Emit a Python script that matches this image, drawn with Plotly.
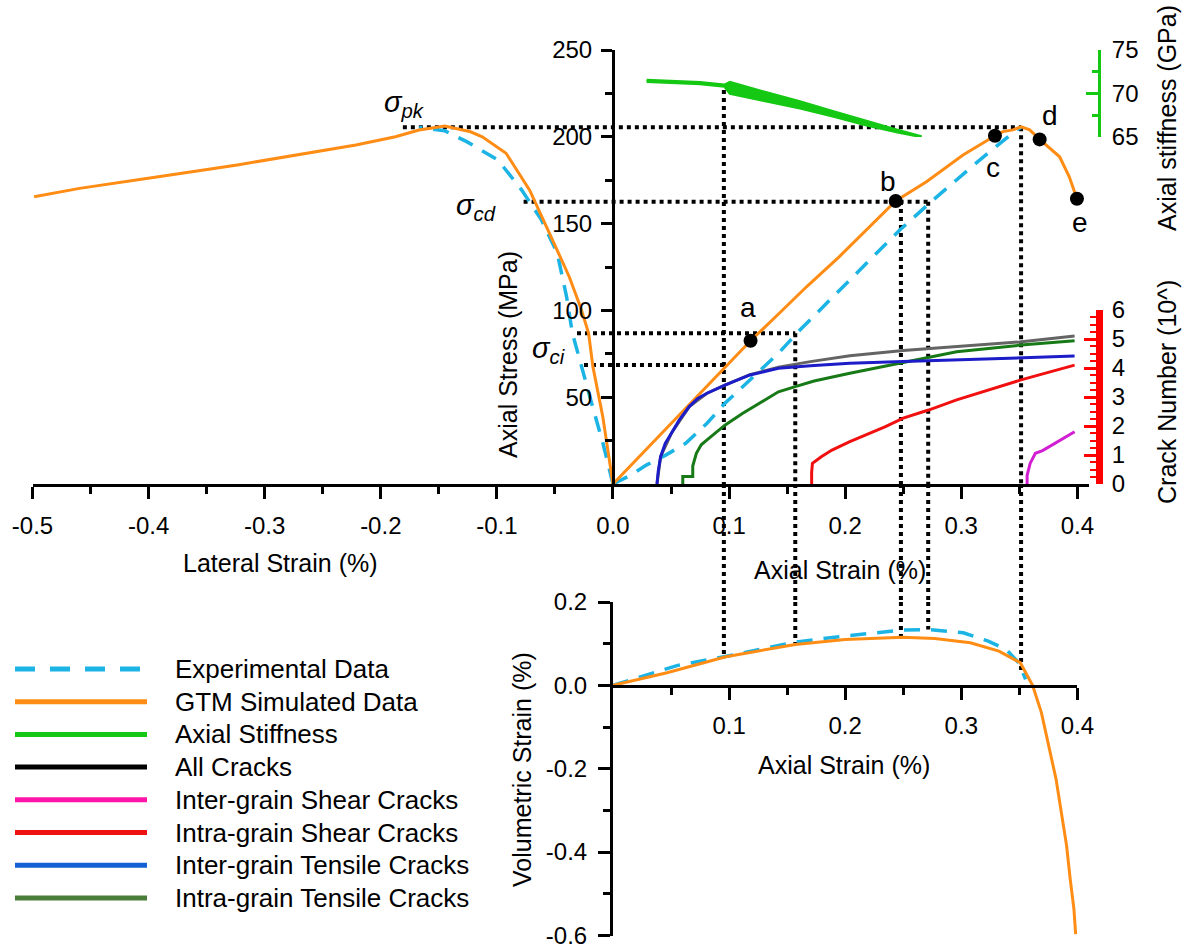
import plotly.graph_objects as go

W, H = 1184, 948
FONT = "Liberation Sans, Arial, sans-serif"

# ---------------- data ----------------
# GTM simulated: axial stress vs axial strain (%)
gtm_axial_strain = [0, 0.03, 0.06, 0.09, 0.1185, 0.145, 0.1667, 0.195, 0.22, 0.2435, 0.27, 0.3015,
                    0.329, 0.3359, 0.3445, 0.3517, 0.3589, 0.3675, 0.3847, 0.393, 0.3996]
gtm_axial_stress = [0, 21, 42, 63, 82.5, 99.5, 113.6, 131, 147.5, 163, 174.1, 189.5,
                    200.6, 203, 204, 205.8, 204, 198.5, 188.5, 177, 164.3]
# GTM simulated: axial stress vs lateral strain (%)
gtm_lateral_strain = [0, -0.0088, -0.0173, -0.021, -0.0275, -0.0377, -0.0547, -0.0672, -0.0718, -0.0921,
                      -0.1126, -0.1227, -0.1449, -0.167, -0.1874, -0.2214, -0.2826, -0.3236, -0.3916,
                      -0.4595, -0.4986]
gtm_lateral_stress = [0, 38.8, 67.6, 86.8, 101, 119.4, 144.4, 162.6, 169.3, 190.5,
                      200, 202.9, 206.2, 203.9, 200, 195.3, 188.5, 183.8, 177,
                      170.3, 165.5]
# Experimental data
exp_axial_strain = [0, 0.015, 0.0287, 0.045, 0.0626, 0.081, 0.0964, 0.121, 0.1425, 0.161, 0.1917,
                    0.2068, 0.247, 0.2757, 0.3158, 0.3474, 0.3517]
exp_axial_stress = [0, 5, 10.9, 16.5, 23.4, 35, 46.5, 61.8, 75.3, 88.7, 108.9,
                    119.4, 146.3, 163.6, 186.6, 203.9, 205.5]
exp_lateral_strain = [0, -0.0085, -0.019, -0.027, -0.035, -0.040, -0.048, -0.0615, -0.0786, -0.099,
                      -0.126, -0.145, -0.167]
exp_lateral_stress = [0, 23, 48, 67.6, 87, 108, 132.9, 152, 169.3, 186.6,
                      197.2, 203.5, 205.4]

# Axial stiffness (GPa) band
stiff_strain = [0.029, 0.05, 0.075, 0.096, 0.1007, 0.13, 0.161, 0.19, 0.2183, 0.245, 0.2657]
stiff_upper = [71.55, 71.45, 71.3, 71.0, 71.3, 70.2, 69.1, 67.95, 66.8, 65.8, 65.05]
stiff_lower = [71.35, 71.25, 71.1, 70.8, 70.0, 69.15, 68.3, 67.35, 66.35, 65.55, 65.0]

# Crack numbers
all_strain = [0.0379, 0.041, 0.0503, 0.0657, 0.081, 0.0964, 0.118, 0.1425, 0.17, 0.204, 0.25, 0.296, 0.35, 0.3976]
all_count = [0, 0.94, 1.75, 2.67, 3.13, 3.41, 3.77, 4.03, 4.22, 4.42, 4.6, 4.74, 4.9, 5.1]
inter_shear_strain = [0.3567, 0.3567, 0.3593, 0.3638, 0.37, 0.376, 0.3976]
inter_shear_count = [0, 0.3, 0.71, 1.06, 1.15, 1.29, 1.8]
intra_shear_strain = [0.1711, 0.1711, 0.1718, 0.1794, 0.1886, 0.204, 0.2347, 0.25, 0.2718, 0.296, 0.3515, 0.3976]
intra_shear_count = [0, 0.4, 0.71, 0.94, 1.17, 1.46, 1.98, 2.27, 2.55, 2.9, 3.59, 4.1]
inter_tens_strain = [0.0379, 0.039, 0.041, 0.045, 0.0503, 0.057, 0.0657, 0.073, 0.081, 0.0964, 0.118, 0.1425,
                     0.17, 0.204, 0.25, 0.296, 0.35, 0.3976]
inter_tens_count = [0, 0.45, 0.94, 1.4, 1.75, 2.2, 2.67, 2.95, 3.13, 3.41, 3.76, 3.99,
                    4.08, 4.16, 4.22, 4.28, 4.34, 4.41]
intra_tens_strain = [0.0601, 0.0601, 0.0687, 0.0687, 0.0718, 0.076, 0.081, 0.0964, 0.1118, 0.1425, 0.157,
                     0.1732, 0.204, 0.2347, 0.2485, 0.296, 0.3515, 0.3976]
intra_tens_count = [0, 0.26, 0.26, 0.62, 1.06, 1.35, 1.52, 2.03, 2.44, 3.18, 3.36,
                    3.55, 3.82, 4.07, 4.18, 4.56, 4.79, 4.94]

# Volumetric strain
vol_gtm_strain = [0, 0.0465, 0.0972, 0.157, 0.2, 0.2494, 0.2771, 0.3078, 0.3324, 0.3508, 0.3614,
                  0.369, 0.3816, 0.3907, 0.3938, 0.397, 0.3985]
vol_gtm_value = [0, 0.0304, 0.0687, 0.0982, 0.11, 0.1157, 0.1126, 0.1022, 0.0822, 0.0543, 0,
                 -0.0655, -0.225, -0.385, -0.465, -0.537, -0.597]
vol_exp_strain = [0, 0.0558, 0.0989, 0.157, 0.2, 0.2494, 0.271, 0.3017, 0.3232, 0.3386, 0.3494, 0.3554]
vol_exp_value = [0, 0.0479, 0.0703, 0.1038, 0.1186, 0.1326, 0.134, 0.1262, 0.106, 0.0862, 0.0543, 0.0144]

# Labelled points on GTM curve
point_labels = ["a", "b", "c", "d", "e"]
point_strain = [0.1185, 0.2435, 0.329, 0.3675, 0.3996]
point_stress = [82.5, 163, 200.6, 198.5, 164.3]

# Threshold guide lines
h_guide_start = [-0.181, -0.077, -0.031, -0.025]
h_guide_end = [0.3515, 0.2715, 0.157, 0.0955]
h_guide_stress = [205.5, 162.6, 86.8, 68.5]
v_guide_strain = [0.0955, 0.157, 0.248, 0.2715, 0.3515]
v_guide_top_stress = [227, 86.8, 163, 162.6, 205.5]
v_guide_vol = [0.066, 0.101, 0.113, 0.134, 0.031]

# Tick labels
main_x_ticks = [-0.5, -0.4, -0.3, -0.2, -0.1, 0.0, 0.1, 0.2, 0.3, 0.4]
main_x_text = ["-0.5", "-0.4", "-0.3", "-0.2", "-0.1", "0.0", "0.1", "0.2", "0.3", "0.4"]
stress_ticks = [50, 100, 150, 200, 250]
stiff_ticks = [65, 70, 75]
crack_ticks = [0, 1, 2, 3, 4, 5, 6]
vol_x_ticks = [0.1, 0.2, 0.3, 0.4]
vol_x_text = ["0.1", "0.2", "0.3", "0.4"]
vol_y_ticks = [-0.6, -0.4, -0.2, 0.0, 0.2]
vol_y_text = ["-0.6", "-0.4", "-0.2", "0.0", "0.2"]

legend_names = ["Experimental Data", "GTM Simulated Data", "Axial Stiffness", "All Cracks",
                "Inter-grain Shear Cracks", "Intra-grain Shear Cracks",
                "Inter-grain Tensile Cracks", "Intra-grain Tensile Cracks"]

# ---------------- styles ----------------
C_EXP = "#1cb4e4"
C_GTM = "#ff8c14"
C_STIFF = "#14c814"
C_ALL = "#646464"
C_INTER_SH = "#d21ed2"
C_INTRA_SH = "#f01010"
C_INTER_TE = "#1c1cc8"
C_INTRA_TE = "#177a17"
legend_colors = [C_EXP, C_GTM, C_STIFF, "#000000", "#ff14aa", "#ee1212", "#1560d4", "#4a7c3a"]
legend_dash = ["20px,15px", "solid", "solid", "solid", "solid", "solid", "solid", "solid"]
EXP_DASH = "16px,11px"


def pxx(x):
    return x / W


def pxy(y):
    return 1 - y / H


fig = go.Figure()

# horizontal guides (main axes)
for xs, xe, s in zip(h_guide_start, h_guide_end, h_guide_stress):
    fig.add_trace(go.Scatter(x=[xs, xe], y=[s, s], mode="lines", xaxis="x", yaxis="y",
                             line=dict(color="black", width=4, dash="dot"), showlegend=False, hoverinfo="skip"))
# vertical guides: main part
for v, top in zip(v_guide_strain, v_guide_top_stress):
    fig.add_trace(go.Scatter(x=[v, v], y=[top, 0], mode="lines", xaxis="x", yaxis="y",
                             line=dict(color="black", width=4, dash="dot"), showlegend=False, hoverinfo="skip"))

# stress-strain curves
fig.add_trace(go.Scatter(x=exp_lateral_strain, y=exp_lateral_stress, mode="lines", xaxis="x", yaxis="y",
                         line=dict(color=C_EXP, width=3.5, dash=EXP_DASH), showlegend=False))
fig.add_trace(go.Scatter(x=exp_axial_strain, y=exp_axial_stress, mode="lines", xaxis="x", yaxis="y",
                         line=dict(color=C_EXP, width=3.5, dash=EXP_DASH), showlegend=False))
fig.add_trace(go.Scatter(x=gtm_lateral_strain, y=gtm_lateral_stress, mode="lines", xaxis="x", yaxis="y",
                         line=dict(color=C_GTM, width=3), showlegend=False))
fig.add_trace(go.Scatter(x=gtm_axial_strain, y=gtm_axial_stress, mode="lines", xaxis="x", yaxis="y",
                         line=dict(color=C_GTM, width=3), showlegend=False))
fig.add_trace(go.Scatter(x=point_strain, y=point_stress, mode="markers", xaxis="x", yaxis="y",
                         marker=dict(color="black", size=14), showlegend=False, cliponaxis=False))

# stiffness band
fig.add_trace(go.Scatter(x=stiff_strain, y=stiff_upper, mode="lines", xaxis="x", yaxis="y3",
                         line=dict(color=C_STIFF, width=2.5), showlegend=False))
fig.add_trace(go.Scatter(x=stiff_strain, y=stiff_lower, mode="lines", xaxis="x", yaxis="y3",
                         line=dict(color=C_STIFF, width=2.5), fill="tonexty", fillcolor=C_STIFF,
                         showlegend=False))

# cracks
for xs, ys, col in [(all_strain, all_count, C_ALL),
                    (intra_tens_strain, intra_tens_count, C_INTRA_TE),
                    (inter_tens_strain, inter_tens_count, C_INTER_TE),
                    (intra_shear_strain, intra_shear_count, C_INTRA_SH),
                    (inter_shear_strain, inter_shear_count, C_INTER_SH)]:
    fig.add_trace(go.Scatter(x=xs, y=ys, mode="lines", xaxis="x", yaxis="y4",
                             line=dict(color=col, width=3), showlegend=False))

# volumetric
for v, bot in zip(v_guide_strain, v_guide_vol):
    fig.add_trace(go.Scatter(x=[v, v], y=[0.2, bot], mode="lines", xaxis="x2", yaxis="y2",
                             line=dict(color="black", width=4, dash="dot"), showlegend=False, hoverinfo="skip"))
fig.add_trace(go.Scatter(x=vol_exp_strain, y=vol_exp_value, mode="lines", xaxis="x2", yaxis="y2",
                         line=dict(color=C_EXP, width=3.5, dash=EXP_DASH), showlegend=False))
fig.add_trace(go.Scatter(x=vol_gtm_strain, y=vol_gtm_value, mode="lines", xaxis="x2", yaxis="y2",
                         line=dict(color=C_GTM, width=3), showlegend=False))

# ---------------- axes ----------------
MAIN_Y_DOM = [pxy(484), pxy(50)]
VOL_Y_DOM = [pxy(936), pxy(602)]
tickfont = dict(family=FONT, size=24, color="black")
common = dict(automargin=False, showgrid=False, zeroline=False, showline=True,
              ticklabeloverflow="allow")

fig.update_layout(
    width=W, height=H, autosize=False,
    margin=dict(l=0, r=0, t=0, b=0, pad=0),
    paper_bgcolor="white", plot_bgcolor="rgba(0,0,0,0)",
    showlegend=False,
    font=dict(family=FONT, color="black"),
    xaxis=dict(domain=[pxx(32.5), pxx(1089)], range=[-0.5, 0.41], anchor="y", **common,
               linecolor="black", linewidth=3,
               ticks="outside", ticklen=12, tickwidth=3, tickcolor="black",
               tickvals=main_x_ticks, ticktext=main_x_text, tickfont=tickfont, ticklabelstandoff=6,
               minor=dict(tickvals=[round(-0.45 + 0.1 * i, 2) for i in range(9)], ticks="outside",
                          ticklen=7, tickwidth=3, tickcolor="black")),
    yaxis=dict(domain=MAIN_Y_DOM, range=[0, 250], anchor="free", position=pxx(613), **common,
               linecolor="black", linewidth=3,
               ticks="outside", ticklen=11, tickwidth=3, tickcolor="black",
               tickvals=stress_ticks, tickfont=tickfont, ticklabelstandoff=4,
               minor=dict(tickvals=[25, 75, 125, 175, 225], ticks="outside", ticklen=7,
                          tickwidth=3, tickcolor="black")),
    yaxis3=dict(domain=[pxy(137), pxy(50)], range=[65, 75], anchor="free", position=pxx(1099),
                side="right", **common, linecolor=C_STIFF, linewidth=3,
                ticks="inside", ticklen=12, tickwidth=3, tickcolor=C_STIFF,
                tickvals=stiff_ticks, tickfont=tickfont, ticklabelstandoff=6,
                minor=dict(tickvals=[67.5, 72.5], ticks="inside", ticklen=6, tickwidth=3,
                           tickcolor=C_STIFF)),
    yaxis4=dict(domain=[pxy(484), pxy(310)], range=[0, 6], anchor="free", position=pxx(1099),
                side="right", **common, linecolor="#ff0000", linewidth=7,
                ticks="inside", ticklen=12, tickwidth=3, tickcolor="#ff0000",
                tickvals=crack_ticks, tickfont=tickfont, ticklabelstandoff=4,
                minor=dict(tickvals=[round(0.25 * i, 2) for i in range(1, 24) if i % 4],
                           ticks="inside", ticklen=6, tickwidth=2, tickcolor="#ff0000")),
    xaxis2=dict(domain=[pxx(613), pxx(1077.4)], range=[0, 0.4], anchor="free", position=pxy(685.5),
                **common, linecolor="black", linewidth=3,
                ticks="outside", ticklen=12, tickwidth=3, tickcolor="black",
                tickvals=vol_x_ticks, ticktext=vol_x_text, tickfont=tickfont, ticklabelstandoff=6,
                minor=dict(tickvals=[0.05, 0.15, 0.25, 0.35], ticks="outside", ticklen=7,
                           tickwidth=3, tickcolor="black")),
    yaxis2=dict(domain=VOL_Y_DOM, range=[-0.6015, 0.2], anchor="x2", **common,
                linecolor="black", linewidth=3,
                ticks="outside", ticklen=12, tickwidth=3, tickcolor="black",
                tickvals=vol_y_ticks, ticktext=vol_y_text, tickfont=tickfont, ticklabelstandoff=6,
                minor=dict(tickvals=[-0.5, -0.3, -0.1, 0.1], ticks="outside", ticklen=7,
                           tickwidth=3, tickcolor="black")),
)

shapes = []
# bridges for vertical guides between the two panels
for v in v_guide_strain:
    shapes.append(dict(type="line", xref="x", yref="paper", x0=v, x1=v,
                       y0=MAIN_Y_DOM[0], y1=VOL_Y_DOM[1],
                       line=dict(color="black", width=4, dash="dot"), layer="above"))

annotations = []


def title(text, x, y, angle=0, size=25):
    annotations.append(dict(text=text, x=pxx(x), y=pxy(y), xref="paper", yref="paper",
                            showarrow=False, xanchor="center", yanchor="middle", textangle=angle,
                            font=dict(family=FONT, size=size, color="black")))


title("Lateral Strain (%)", 280, 563)
title("Axial Strain (%)", 840, 570)
title("Axial Stress (MPa)", 508, 355, -90)
title("Axial stiffness (GPa)", 1167, 118, -90)
title("Crack Number (10^)", 1167, 392, -90)
title("Axial Strain (%)", 844, 765)
title("Volumetric Strain (%)", 522, 770, -90)
title("<i>σ<sub>pk</sub></i>", 404, 104, size=29)
title("<i>σ<sub>cd</sub></i>", 476, 207, size=29)
title("<i>σ<sub>ci</sub></i>", 548, 350, size=29)

# point letters
letter_shift = [(-3, 33), (-8, 20), (-2, -32), (10, 24), (3, -24)]
for lab, xs, ys, (dx, dy) in zip(point_labels, point_strain, point_stress, letter_shift):
    annotations.append(dict(text=lab, x=xs, y=ys, xref="x", yref="y", showarrow=False,
                            xshift=dx, yshift=dy, xanchor="center", yanchor="middle",
                            font=dict(family=FONT, size=28, color="black")))

# manual legend
for i, (name, col, dsh) in enumerate(zip(legend_names, legend_colors, legend_dash)):
    yy = 669 + 32.7 * i
    shapes.append(dict(type="line", xref="paper", yref="paper", x0=pxx(15), x1=pxx(147),
                       y0=pxy(yy), y1=pxy(yy), line=dict(color=col, width=5, dash=dsh)))
    annotations.append(dict(text=name, x=pxx(173), y=pxy(yy), xref="paper", yref="paper",
                            showarrow=False, xanchor="left", yanchor="middle",
                            font=dict(family=FONT, size=26, color="black")))

fig.update_layout(shapes=shapes, annotations=annotations)

fig.write_html("out.html")
